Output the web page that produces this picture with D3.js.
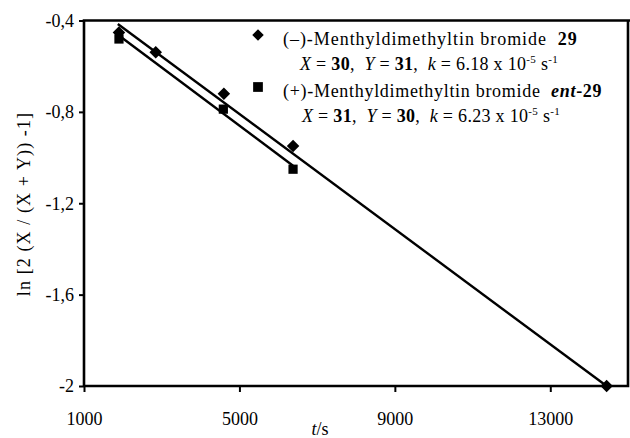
<!DOCTYPE html>
<html>
<head>
<meta charset="utf-8">
<script src="https://cdn.jsdelivr.net/npm/d3@7"></script>
<style>
  html, body { margin: 0; padding: 0; background: #fff; }
  svg { display: block; }
  svg text { font-family: "Liberation Serif", "Times New Roman", Times, "DejaVu Serif", serif !important; fill: #000; }
</style>
</head>
<body>
<script>
// ---- data ----
const tMinus29 = [1900, 2846, 4600, 6380, 14450];          // (-)-29, t/s
const yMinus29 = [-0.453, -0.539, -0.721, -0.949, -2.0];   // ln[...]
const tEnt29 = [1900, 4586, 6380];                          // (+)-ent-29
const yEnt29 = [-0.481, -0.788, -1.051];
const fitMinus29T = [1870, 14450];
const fitMinus29Y = [-0.415, -2.0];
const fitEnt29T = [1950, 6380];
const fitEnt29Y = [-0.472, -1.036];
const xTicks = [1000, 5000, 9000, 13000];
const xTickLabels = ["1000", "5000", "9000", "13000"];
const yTicks = [-0.4, -0.8, -1.2, -1.6, -2];
const yTickLabels = ["-0,4", "-0,8", "-1,2", "-1,6", "-2"];

const W = 630, H = 438;
const FONT = "'Liberation Serif', 'Times New Roman', Times, 'DejaVu Serif', serif";
const svg = d3.select("body").append("svg").attr("width", W).attr("height", H)
  .attr("font-family", FONT);

const x = d3.scaleLinear().domain([1000, 15000]).range([84, 628]);
const y = d3.scaleLinear().domain([-2, -0.4]).range([386, 20.5]);

// axes
const yAxis = d3.axisLeft(y).tickValues(yTicks)
  .tickFormat((d, i) => yTickLabels[i]).tickSize(5).tickPadding(5);
const gy = svg.append("g").attr("transform", `translate(${x(1000)},0)`).call(yAxis)
  .attr("font-family", FONT).attr("font-size", 18);
gy.select(".domain").remove();
gy.selectAll(".tick line").attr("stroke", "#000").attr("stroke-width", 2);

const xAxis = d3.axisBottom(x).tickValues(xTicks)
  .tickFormat((d, i) => xTickLabels[i]).tickSize(6).tickPadding(20);
const gx = svg.append("g").attr("transform", `translate(0,${y(-2)})`).call(xAxis)
  .attr("font-family", FONT).attr("font-size", 18);
gx.select(".domain").remove();
gx.selectAll(".tick line").attr("stroke", "#000").attr("stroke-width", 2);

// frame
const [x0, x1] = x.range();
const [yb, yt] = y.range();
svg.append("path")
  .attr("d", `M${x0},${yb} L${x0},${yt} L${W},${yt} M${x1},${yt} L${x1},${yb} L${x0},${yb}`)
  .attr("fill", "none").attr("stroke", "#000").attr("stroke-width", 2.6);

// fit lines
const line = d3.line().x(d => x(d[0])).y(d => y(d[1]));
svg.append("path").datum(d3.zip(fitMinus29T, fitMinus29Y)).attr("d", line)
  .attr("fill", "none").attr("stroke", "#000").attr("stroke-width", 2.4);
svg.append("path").datum(d3.zip(fitEnt29T, fitEnt29Y)).attr("d", line)
  .attr("fill", "none").attr("stroke", "#000").attr("stroke-width", 2.4);

// markers
const sq = d3.symbol().type(d3.symbolSquare).size(85);
const di = d3.symbol().type(d3.symbolDiamond2).size(100);
svg.append("g").selectAll("path").data(d3.zip(tEnt29, yEnt29)).join("path")
  .attr("transform", d => `translate(${x(d[0])},${y(d[1])})`).attr("d", sq).attr("fill", "#000");
svg.append("g").selectAll("path").data(d3.zip(tMinus29, yMinus29)).join("path")
  .attr("transform", d => `translate(${x(d[0])},${y(d[1])})`).attr("d", di).attr("fill", "#000");

// legend
const lg = svg.append("g");
lg.append("path").attr("transform", "translate(258,35)").attr("d", d3.symbol().type(d3.symbolDiamond2).size(85)).attr("fill", "#000");
lg.append("path").attr("transform", "translate(258,87)").attr("d", d3.symbol().type(d3.symbolSquare).size(95)).attr("fill", "#000");

function legendLine(xp, yp, ls, parts) {
  const t = lg.append("text").attr("x", xp).attr("y", yp).attr("font-size", 18)
    .attr("letter-spacing", ls).attr("xml:space", "preserve");
  parts.forEach(p => {
    const s = t.append("tspan").text(p.t);
    if (p.b) s.attr("font-weight", "bold");
    if (p.i) s.attr("font-style", "italic");
    if (p.sup) s.attr("font-size", 11).attr("dy", -7);
    if (p.down) s.attr("dy", 7);
  });
}
legendLine(283, 45, 0.95, [{t: "(\u2013)-Menthyldimethyltin bromide  "}, {t: "29", b: true}]);
legendLine(300, 70, 0.3, [{t: "X", i: true}, {t: " = "}, {t: "30", b: true}, {t: ",  "},
  {t: "Y", i: true}, {t: " = "}, {t: "31", b: true}, {t: ",  "}, {t: "k", i: true},
  {t: " = 6.18 x 10"}, {t: "-5", sup: true}, {t: " s", down: true}, {t: "-1", sup: true}]);
legendLine(283, 97, 0.7, [{t: "(+)-Menthyldimethyltin bromide  "}, {t: "ent", b: true, i: true}, {t: "-29", b: true}]);
legendLine(302, 122, 0.3, [{t: "X", i: true}, {t: " = "}, {t: "31", b: true}, {t: ",  "},
  {t: "Y", i: true}, {t: " = "}, {t: "30", b: true}, {t: ",  "}, {t: "k", i: true},
  {t: " = 6.23 x 10"}, {t: "-5", sup: true}, {t: " s", down: true}, {t: "-1", sup: true}]);

// axis titles
const yl = svg.append("text").attr("transform", "translate(30,204) rotate(-90)")
  .attr("text-anchor", "middle").attr("font-size", 18).attr("letter-spacing", 1.1)
  .attr("xml:space", "preserve");
yl.append("tspan").text("ln [2 (X / (X + Y)) -1]");

const xl = svg.append("text").attr("x", 320).attr("y", 435).attr("text-anchor", "middle").attr("font-size", 18);
xl.append("tspan").attr("font-style", "italic").text("t");
xl.append("tspan").text("/s");
</script>
</body>
</html>
